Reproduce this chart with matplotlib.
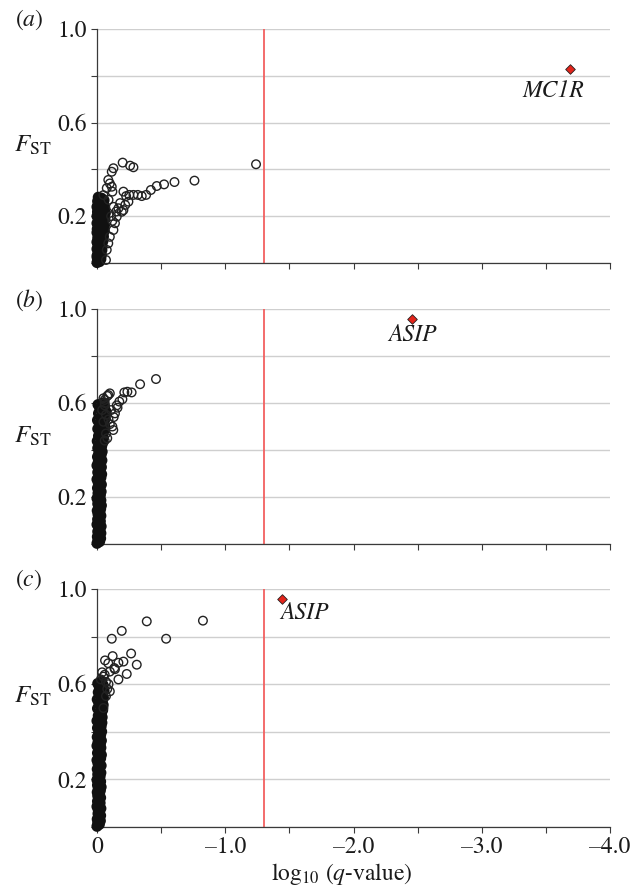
import numpy as np
import matplotlib
matplotlib.use("Agg")
import matplotlib.pyplot as plt

plt.rcParams['font.family'] = ['STIXGeneral', 'Liberation Serif', 'DejaVu Serif']
plt.rcParams['mathtext.fontset'] = 'stix'

# ---------------- data ----------------
q_threshold = 0.05

# panel (a) -- dense cloud near q = 1
a_dense_x = [0.000, -0.020, -0.008, -0.030, -0.002, -0.018, -0.034, -0.006, -0.025, -0.012,
             -0.038, 0.000, -0.022, -0.040, -0.010, -0.030, -0.003, -0.045, -0.018, -0.035,
             -0.006, -0.050, -0.024, -0.040, -0.010, -0.055, -0.030, -0.002, -0.045, -0.020,
             -0.058, -0.035, -0.008, -0.050, -0.025, -0.062, -0.040, -0.012, -0.055, -0.030,
             -0.065, -0.004, -0.045, -0.020, -0.060, -0.035, -0.010, -0.050, -0.025, -0.040,
             -0.005, -0.055, -0.020, -0.035, -0.010, 0.000, 0.000, 0.000, 0.000, 0.000, 0.000]
a_dense_y = [0.002, 0.006, 0.012, 0.017, 0.022, 0.028, 0.033, 0.038, 0.044, 0.050,
             0.055, 0.060, 0.066, 0.071, 0.076, 0.082, 0.087, 0.092, 0.098, 0.103,
             0.108, 0.113, 0.119, 0.124, 0.129, 0.135, 0.140, 0.145, 0.150, 0.156,
             0.161, 0.166, 0.171, 0.177, 0.182, 0.187, 0.192, 0.198, 0.203, 0.208,
             0.213, 0.219, 0.224, 0.229, 0.234, 0.240, 0.245, 0.250, 0.255, 0.260,
             0.264, 0.268, 0.272, 0.277, 0.281, 0.030, 0.090, 0.130, 0.170, 0.200, 0.240]
# panel (a) -- scattered points
a_x = [-0.200, -0.258, -0.284, -1.240, -0.760, -0.604, -0.523, -0.466, -0.420, -0.383,
       -0.349, -0.318, -0.284, -0.252, -0.227, -0.206, -0.128, -0.115, -0.088, -0.100,
       -0.115, -0.120, -0.076, -0.050, -0.245, -0.220, -0.206, -0.193, -0.167, -0.180,
       -0.154, -0.140, -0.128, -0.100, -0.088, -0.076, -0.070, -0.090, -0.130, -0.150,
       -0.110, -0.120]
a_y = [0.429, 0.416, 0.409, 0.422, 0.352, 0.346, 0.336, 0.329, 0.312, 0.291,
       0.286, 0.291, 0.291, 0.291, 0.286, 0.305, 0.405, 0.390, 0.355, 0.340,
       0.326, 0.305, 0.320, 0.290, 0.262, 0.248, 0.226, 0.219, 0.234, 0.256,
       0.198, 0.170, 0.141, 0.112, 0.084, 0.056, 0.013, 0.270, 0.240, 0.220,
       0.200, 0.180]
a_gene = "MC1R"
a_gene_x, a_gene_y = -3.69, 0.829
a_label_x, a_label_y = -3.555, 0.735

# panel (b)
b_dense_x = [0.000, -0.020, -0.008, -0.028, -0.003, -0.016, -0.030, -0.006, -0.022, -0.012,
             -0.032, 0.000, -0.018, -0.026, -0.005, -0.014, -0.030, -0.008, -0.022, -0.002,
             -0.028, -0.012, -0.034, -0.006, -0.020, -0.030, 0.000, -0.016, -0.026, -0.008,
             -0.032, -0.014, -0.004, -0.024, -0.034, -0.010, -0.020, 0.000, -0.030, -0.014,
             -0.036, -0.006, -0.024, -0.016, -0.034, 0.000, -0.028, -0.010, -0.038, -0.020,
             -0.004, -0.032, -0.014, -0.040, -0.024, -0.006, -0.036, -0.018, -0.044, -0.002,
             -0.030, -0.050, -0.012, -0.040, -0.024, -0.055, -0.006, -0.035, -0.060, -0.018,
             -0.048, -0.004, -0.065, -0.030, -0.052, -0.012, -0.070, -0.040, -0.022, -0.058,
             -0.008, -0.045]
b_dense_y = [0.003, 0.010, 0.017, 0.024, 0.031, 0.038, 0.046, 0.053, 0.060, 0.068,
             0.075, 0.083, 0.090, 0.097, 0.105, 0.112, 0.120, 0.127, 0.134, 0.142,
             0.149, 0.157, 0.164, 0.171, 0.179, 0.186, 0.194, 0.201, 0.208, 0.216,
             0.223, 0.231, 0.238, 0.245, 0.253, 0.260, 0.268, 0.275, 0.282, 0.290,
             0.297, 0.305, 0.312, 0.319, 0.327, 0.334, 0.342, 0.349, 0.356, 0.364,
             0.371, 0.379, 0.386, 0.393, 0.401, 0.408, 0.416, 0.423, 0.430, 0.438,
             0.445, 0.453, 0.460, 0.467, 0.475, 0.482, 0.490, 0.497, 0.504, 0.512,
             0.519, 0.527, 0.534, 0.541, 0.549, 0.556, 0.564, 0.571, 0.578, 0.586,
             0.593, 0.600]
b_x = [-0.050, -0.060, -0.080, -0.100, -0.088, -0.060, -0.060, -0.040, -0.070, -0.050,
       -0.090, -0.100, -0.127, -0.120, -0.140, -0.154, -0.174, -0.198, -0.213, -0.237,
       -0.270, -0.336, -0.460, -0.070, -0.080, -0.060, -0.110, -0.130, -0.160]
b_y = [0.620, 0.600, 0.630, 0.641, 0.634, 0.613, 0.590, 0.570, 0.550, 0.520,
       0.530, 0.510, 0.485, 0.500, 0.556, 0.590, 0.606, 0.616, 0.645, 0.648,
       0.645, 0.680, 0.702, 0.470, 0.450, 0.440, 0.570, 0.540, 0.580]
b_gene = "ASIP"
b_gene_x, b_gene_y = -2.46, 0.957
b_label_x, b_label_y = -2.46, 0.890

# panel (c)
c_dense_x = [0.000, -0.018, -0.006, -0.026, -0.002, -0.014, -0.028, -0.008, -0.020, -0.010,
             -0.030, 0.000, -0.016, -0.024, -0.004, -0.012, -0.028, -0.006, -0.020, -0.002,
             -0.026, -0.010, -0.032, -0.004, -0.018, -0.028, 0.000, -0.014, -0.024, -0.006,
             -0.030, -0.012, -0.002, -0.022, -0.032, -0.008, -0.018, 0.000, -0.028, -0.012,
             -0.034, -0.004, -0.022, -0.014, -0.030, 0.000, -0.026, -0.008, -0.034, -0.018,
             -0.002, -0.028, -0.012, -0.036, -0.020, -0.004, -0.032, -0.016, -0.038, 0.000,
             -0.026, -0.040, -0.010, -0.034, -0.020, -0.044, -0.004, -0.030, -0.048, -0.014,
             -0.040, -0.002, -0.050, -0.024, -0.044, -0.010, -0.055, -0.032, -0.018, -0.048,
             -0.006, -0.036]
c_dense_y = [0.003, 0.011, 0.018, 0.026, 0.033, 0.041, 0.048, 0.056, 0.063, 0.071,
             0.078, 0.086, 0.093, 0.101, 0.108, 0.116, 0.123, 0.131, 0.138, 0.146,
             0.153, 0.161, 0.168, 0.176, 0.183, 0.191, 0.198, 0.206, 0.213, 0.221,
             0.228, 0.236, 0.243, 0.251, 0.258, 0.266, 0.273, 0.281, 0.288, 0.296,
             0.303, 0.311, 0.318, 0.326, 0.333, 0.341, 0.348, 0.356, 0.363, 0.371,
             0.378, 0.386, 0.393, 0.401, 0.408, 0.416, 0.423, 0.431, 0.438, 0.446,
             0.453, 0.461, 0.468, 0.476, 0.483, 0.491, 0.498, 0.506, 0.513, 0.521,
             0.528, 0.536, 0.543, 0.551, 0.558, 0.566, 0.573, 0.581, 0.588, 0.596,
             0.603, 0.611]
c_x = [-0.826, -0.388, -0.539, -0.193, -0.115, -0.266, -0.310, -0.232, -0.206, -0.167,
       -0.122, -0.140, -0.135, -0.167, -0.0625, -0.088, -0.100, -0.050, -0.030, -0.070,
       -0.090, -0.060, -0.040, -0.080, -0.100, -0.070, -0.050]
c_y = [0.867, 0.864, 0.791, 0.824, 0.791, 0.729, 0.682, 0.643, 0.695, 0.690,
       0.718, 0.663, 0.668, 0.620, 0.700, 0.688, 0.653, 0.632, 0.620, 0.610,
       0.600, 0.640, 0.650, 0.580, 0.570, 0.550, 0.500]
c_gene = "ASIP"
c_gene_x, c_gene_y = -1.445, 0.958
c_label_x, c_label_y = -1.62, 0.900

panel_letters = ["a", "b", "c"]
x_ticks = [0, -0.5, -1.0, -1.5, -2.0, -2.5, -3.0, -3.5, -4.0]
x_ticklabels = ["0", "", "\u20131.0", "", "\u20132.0", "", "\u20133.0", "", "\u20134.0"]
y_ticks = [0, 0.2, 0.4, 0.6, 0.8, 1.0]
y_ticklabels = ["", "0.2", "", "0.6", "", "1.0"]
fst_label_y = [0.50, 0.455, 0.546]

# ---------------- figure ----------------
W, H = 643, 888
fig = plt.figure(figsize=(W / 100, H / 100), dpi=100)

left = 97 / W
width = (610 - 97) / W
panels = [(29, 263), (309, 544), (589, 827)]

data = [
    (a_dense_x, a_dense_y, a_x, a_y, a_gene, a_gene_x, a_gene_y, a_label_x, a_label_y),
    (b_dense_x, b_dense_y, b_x, b_y, b_gene, b_gene_x, b_gene_y, b_label_x, b_label_y),
    (c_dense_x, c_dense_y, c_x, c_y, c_gene, c_gene_x, c_gene_y, c_label_x, c_label_y),
]

spine_col = '#3a3a3a'
txt_col = '#1a1a1a'
for i, ((top, bot), d) in enumerate(zip(panels, data)):
    dx, dy, ox, oy, gene, gx, gy, lx, ly = d
    ax = fig.add_axes([left, 1 - bot / H, width, (bot - top) / H])
    ax.set_xlim(0, -4.0)
    ax.set_ylim(0, 1.0)
    ax.set_yticks(y_ticks)
    ax.set_yticklabels(y_ticklabels, fontsize=17)
    ax.set_xticks(x_ticks)
    if i == 2:
        ax.set_xticklabels(x_ticklabels, fontsize=17)
    else:
        ax.set_xticklabels([])
    ax.yaxis.grid(True, color='#cfcfcf', lw=1.0)
    ax.set_axisbelow(True)
    for s in ['top', 'right']:
        ax.spines[s].set_visible(False)
    for s in ['left', 'bottom']:
        ax.spines[s].set_color(spine_col)
        ax.spines[s].set_linewidth(0.9)
    ax.tick_params(direction='out', length=4, width=0.8, color=spine_col,
                   labelcolor=txt_col, pad=3)
    ax.axvline(np.log10(q_threshold), color='#f26060', lw=1.3, zorder=2)
    # dense cloud: heavily overlapping rings render as a solid black mass
    ax.scatter(dx, dy, s=28, facecolors='none', edgecolors='#111111',
               linewidths=2.7, clip_on=False, zorder=3)
    ax.scatter(ox, oy, s=38, facecolors='none', edgecolors='#222222',
               linewidths=1.0, clip_on=False, zorder=3)
    ax.scatter([gx], [gy], marker='D', s=24, facecolors='#e3241b',
               edgecolors='#222222', linewidths=0.6, zorder=4)
    ax.text(lx, ly, gene, style='italic', fontsize=17, ha='center', va='center',
            color=txt_col)
    ax.text(-(97 - 33) / 513, fst_label_y[i], r'$F_{\mathrm{ST}}$',
            transform=ax.transAxes, fontsize=18, ha='center', va='center',
            color=txt_col)
    fig.text(29 / W, 1 - (top - 9) / H, '($%s$)' % panel_letters[i],
             fontsize=17, ha='center', va='center', color=txt_col)

fig.text(342 / W, 1 - 874 / H, r'log$_{10}$ ($q$-value)', fontsize=17,
         ha='center', va='center', color=txt_col)

fig.savefig('out.png', dpi=100)
